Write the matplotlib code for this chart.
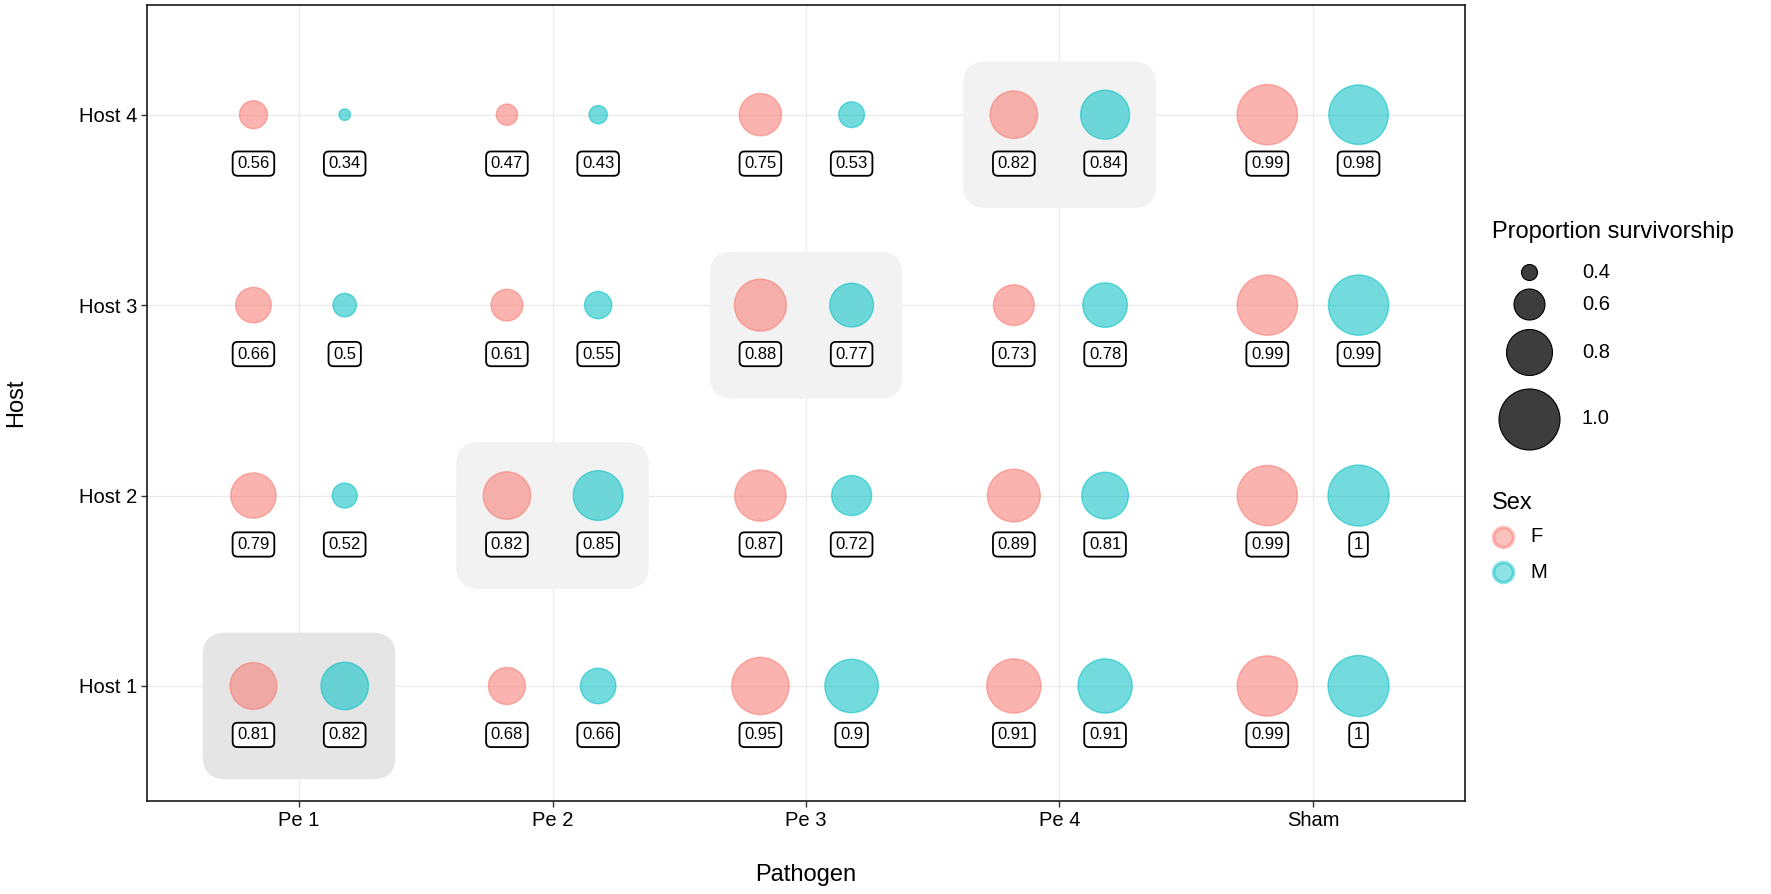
import numpy as np
import matplotlib
matplotlib.use('Agg')
import matplotlib.pyplot as plt
from matplotlib.patches import FancyBboxPatch

plt.rcParams['font.family'] = ['Liberation Sans', 'DejaVu Sans']

#%% Data
pathogens = ['Pe 1', 'Pe 2', 'Pe 3', 'Pe 4', 'Sham']
hosts = ['Host 1', 'Host 2', 'Host 3', 'Host 4']

# proportion survivorship, rows = hosts (1..4), columns = pathogens
surv_F = [[0.81, 0.68, 0.95, 0.91, 0.99],
          [0.79, 0.82, 0.87, 0.89, 0.99],
          [0.66, 0.61, 0.88, 0.73, 0.99],
          [0.56, 0.47, 0.75, 0.82, 0.99]]
surv_M = [[0.82, 0.66, 0.90, 0.91, 1.00],
          [0.52, 0.85, 0.72, 0.81, 1.00],
          [0.50, 0.55, 0.77, 0.78, 0.99],
          [0.34, 0.43, 0.53, 0.84, 0.98]]

# matched host/pathogen combos that get a shaded box
home_pathogen = ['Pe 1', 'Pe 2', 'Pe 3', 'Pe 4']
home_shade = ['#e5e5e5', '#f2f2f2', '#f2f2f2', '#f2f2f2']

size_breaks = [0.4, 0.6, 0.8, 1.0]
sex_levels = ['F', 'M']
sex_cols = {'F': '#F8766D', 'M': '#00BFC4'}

#%% Helpers
def diam_px(v):
    # radius scale, linear in diameter
    return 16 + (np.asarray(v) - 0.4) / 0.6 * 45

def msize(v):
    return (diam_px(v) * 0.72) ** 2

W, H = 1771, 894
fig = plt.figure(figsize=(W / 100, H / 100), dpi=100)
ax = fig.add_axes([147 / W, 1 - 801 / H, (1465 - 147) / W, (801 - 5) / H])

ax.set_xlim(0.4, 5.6)
ax.set_ylim(0.396, 4.576)
ax.set_xticks(range(1, 6))
ax.set_xticklabels(pathogens, fontsize=14.5)
ax.set_yticks(range(1, 5))
ax.set_yticklabels(hosts, fontsize=14.5)
ax.tick_params(length=4, width=1, color='#333333', pad=3)
ax.grid(True, color='#ebebeb', linewidth=1)
ax.set_axisbelow(True)
for sp in ax.spines.values():
    sp.set_linewidth(1.2)
    sp.set_color('#1a1a1a')

# shaded boxes
for i, (pname, shade) in enumerate(zip(home_pathogen, home_shade)):
    xc = pathogens.index(pname) + 1
    yc = i + 1
    box = FancyBboxPatch((xc - 0.38 + 0.09, yc - 0.49 + 0.12), 0.76 - 0.18, 0.77 - 0.24,
                         boxstyle='round,pad=0.09', mutation_aspect=1.333,
                         facecolor=shade, edgecolor='none', zorder=1)
    ax.add_patch(box)

# bubbles and labels
off = {'F': -0.18, 'M': 0.18}
for sex, data in zip(sex_levels, [surv_F, surv_M]):
    arr = np.array(data)
    for i in range(len(hosts)):
        xs = np.arange(1, 6) + off[sex]
        ys = np.full(5, i + 1)
        ax.scatter(xs, ys, s=msize(arr[i]), facecolor=sex_cols[sex], alpha=0.55,
                   edgecolor=sex_cols[sex], linewidth=1, zorder=2)
        for x, v in zip(xs, arr[i]):
            ax.text(x, i + 1 - 0.257, f'{v:g}', ha='center', va='center', fontsize=12,
                    color='black', zorder=3,
                    bbox=dict(boxstyle='round,pad=0.28,rounding_size=0.3', facecolor='white',
                              edgecolor='black', linewidth=1.3))

# axis titles
fig.text(806 / W, 1 - 875 / H, 'Pathogen', ha='center', va='center', fontsize=17)
fig.text(16 / W, 1 - 403 / H, 'Host', ha='center', va='center', fontsize=17, rotation=90)

#%% Legends drawn in pixel space
lax = fig.add_axes([0, 0, 1, 1])
lax.set_xlim(0, W)
lax.set_ylim(H, 0)
lax.axis('off')
lax.patch.set_alpha(0)

lax.text(1492, 232, 'Proportion survivorship', ha='left', va='center', fontsize=17)
key_y = [272, 304, 352, 419]
for b, yk in zip(size_breaks, key_y):
    lax.scatter([1529], [yk], s=msize(b), facecolor='#3d3d3d', edgecolor='black', linewidth=0.8)
    lax.text(1582, yk, f'{b:.1f}', ha='left', va='center', fontsize=14.5)

lax.text(1492, 503, 'Sex', ha='left', va='center', fontsize=17)
for sex, yk in zip(sex_levels, [537, 572]):
    lax.scatter([1503], [yk], s=(20 * 0.72) ** 2, facecolor=sex_cols[sex], alpha=0.45,
                edgecolor=sex_cols[sex], linewidth=2.5)
    lax.text(1530, yk, sex, ha='left', va='center', fontsize=14.5)

fig.savefig('out.png', dpi=100)
